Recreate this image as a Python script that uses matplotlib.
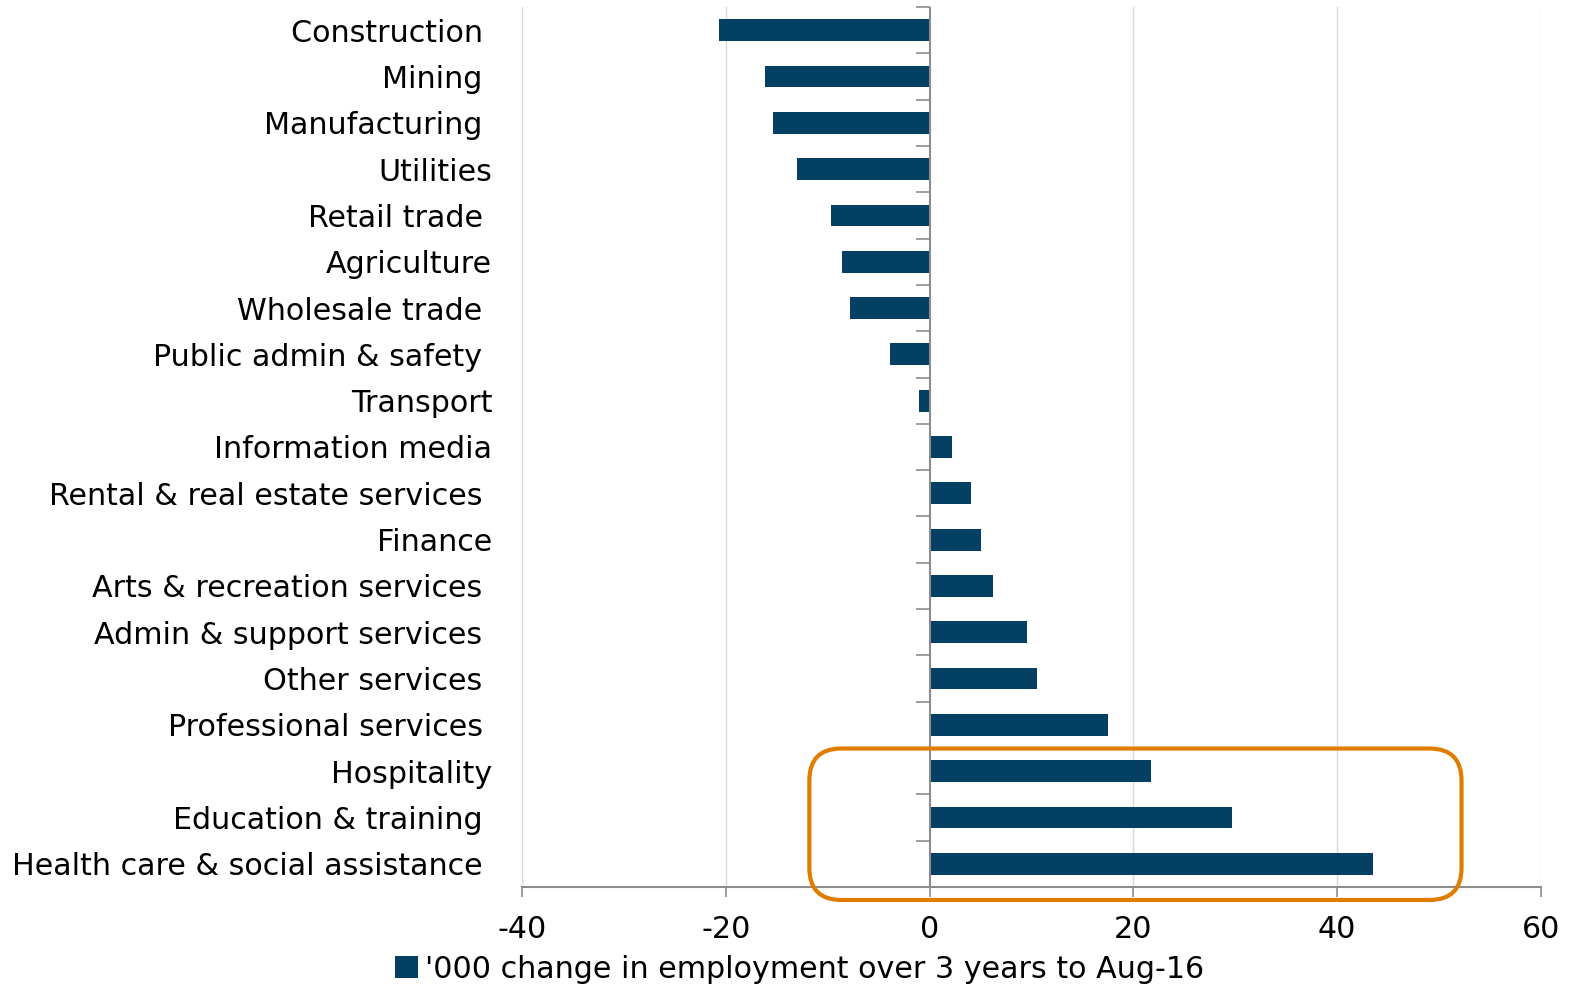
import matplotlib
matplotlib.use("Agg")
import matplotlib.pyplot as plt
from matplotlib.patches import FancyBboxPatch
from matplotlib.lines import TICKLEFT

categories = ["Construction ", "Mining ", "Manufacturing ", "Utilities", "Retail trade ",
              "Agriculture", "Wholesale trade ", "Public admin & safety ", "Transport",
              "Information media", "Rental & real estate services ", "Finance",
              "Arts & recreation services ", "Admin & support services ", "Other services ",
              "Professional services ", "Hospitality", "Education & training ",
              "Health care & social assistance "]
values = [-20.7, -16.2, -15.4, -13.0, -9.7, -8.6, -7.8, -3.9, -1.0,
          2.2, 4.1, 5.0, 6.2, 9.6, 10.5, 17.5, 21.7, 29.7, 43.5]
xticks = [-40, -20, 0, 20, 40, 60]
series_label = "'000 change in employment over 3 years to Aug-16"

bar_color = "#044063"
axis_gray = "#8c8c8c"
grid_color = "#d3dbe3"
orange = "#E07C00"
fs = 21.7

plt.rcParams['font.family'] = ['DejaVu Sans']
fig = plt.figure(figsize=(15.74, 9.86), dpi=100)
ax = fig.add_axes([522/1574, 1-887/986, (1541-522)/1574, (887-7)/986])

pos = list(range(len(categories)))
ax.barh(pos, values, height=0.47, color=bar_color, label=series_label, zorder=3)
ax.set_ylim(len(categories)-0.5, -0.5)
ax.set_xlim(-40, 60)
ax.set_xticks(xticks)
ax.set_xticklabels([str(t) for t in xticks], fontsize=fs)
ax.set_yticks(pos)
ax.set_yticklabels(categories, fontsize=fs)
ax.tick_params(axis='y', length=0, pad=21.5)
ax.tick_params(axis='x', length=7, width=1.2, color=axis_gray, pad=13.5, direction='out')

for s in ['top', 'right', 'left']:
    ax.spines[s].set_visible(False)
ax.spines['bottom'].set_color(axis_gray)
ax.spines['bottom'].set_linewidth(1.5)

for t in xticks:
    if t != 0:
        ax.axvline(t, color=grid_color, lw=1, zorder=0)
ax.axvline(0, color=axis_gray, lw=1.5, zorder=4)

# category boundary ticks on the zero axis
bounds = [p - 0.5 for p in pos]
ax.plot([0]*len(bounds), bounds, ls='none', marker=TICKLEFT, ms=10, mew=1.2,
        color=axis_gray, zorder=4, clip_on=False)

# orange rounded highlight box
fig.canvas.draw()
(x0, y0) = ax.transData.transform((-11.8, 18.78))
(x1, y1) = ax.transData.transform((52.2, 15.51))
dpi = fig.dpi
r = 32
box = FancyBboxPatch((x0/dpi + r/dpi, y0/dpi + r/dpi), (x1-x0-2*r)/dpi, (y1-y0-2*r)/dpi,
                     boxstyle=f"round,pad={r/dpi},rounding_size={r/dpi}",
                     transform=fig.dpi_scale_trans, fill=False, ec=orange, lw=3,
                     zorder=6, clip_on=False)
fig.add_artist(box)

leg = fig.legend(loc='lower center', bbox_to_anchor=(0.508, -0.025), frameon=False,
                 fontsize=fs, handlelength=0.75, handleheight=0.75, handletextpad=0.25)

fig.savefig("out.png", dpi=100)
